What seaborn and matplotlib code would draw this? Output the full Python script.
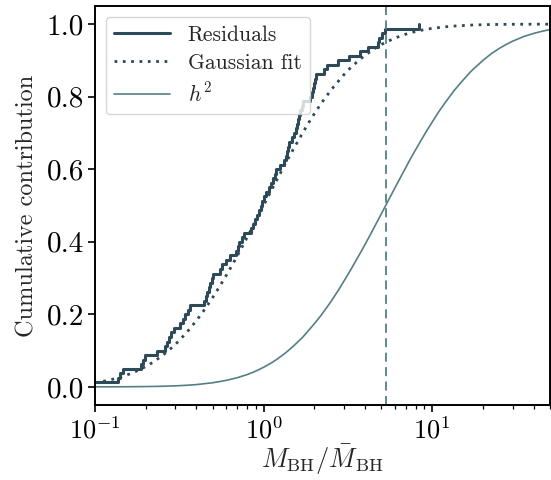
import matplotlib
matplotlib.use("Agg")
import matplotlib.pyplot as plt
import seaborn as sns

# ---- data ----
residual_masses = [0.08, 0.137, 0.141, 0.147, 0.188, 0.193, 0.198, 0.233, 0.260, 0.268,
                   0.275, 0.283, 0.294, 0.319, 0.333, 0.342, 0.356, 0.366, 0.444, 0.453,
                   0.462, 0.472, 0.482, 0.491, 0.502, 0.552, 0.567, 0.599, 0.633, 0.687,
                   0.701, 0.715, 0.745, 0.766, 0.843, 0.866, 0.890, 0.915, 0.940, 0.960,
                   0.980, 1.007, 1.035, 1.078, 1.108, 1.139, 1.170, 1.186, 1.253, 1.323,
                   1.360, 1.379, 1.398, 1.417, 1.476, 1.517, 1.559, 1.581, 1.602, 1.625,
                   1.647, 1.693, 1.716, 1.888, 1.940, 1.967, 1.994, 2.021, 2.049, 2.286,
                   2.382, 2.768, 3.217, 3.738, 4.171, 4.781, 4.847, 5.048, 5.260, 8.372]

fit_x = [0.1, 0.11, 0.12, 0.13, 0.14, 0.15, 0.17, 0.18, 0.2, 0.22, 0.25, 0.27, 0.3, 0.35,
         0.4, 0.45, 0.5, 0.55, 0.6, 0.65, 0.7, 0.8, 0.9, 1.0, 1.1, 1.2, 1.35, 1.5, 1.8,
         2.0, 2.2, 2.5, 2.7, 3.0, 3.3, 3.7, 4.0, 4.5, 5.0, 6.0, 7.0, 8.0, 9.0, 10, 13,
         17, 22, 30, 40, 50]
fit_cdf = [0.0115, 0.0147, 0.0182, 0.022, 0.0261, 0.0306, 0.0401, 0.0453, 0.056, 0.0675,
           0.0857, 0.0981, 0.117, 0.150, 0.183, 0.2153, 0.247, 0.2776, 0.307, 0.3353,
           0.362, 0.413, 0.4586, 0.500, 0.5375, 0.571, 0.6164, 0.655, 0.719, 0.753,
           0.782, 0.8171, 0.836, 0.8609, 0.881, 0.9017, 0.914, 0.9312, 0.944, 0.9616,
           0.9726, 0.980, 0.985, 0.9885, 0.9943, 0.9974, 0.9989, 0.9996, 0.9999, 0.9999]

h2_x = [0.1, 0.12, 0.15, 0.2, 0.25, 0.3, 0.35, 0.4, 0.5, 0.6, 0.7, 0.8, 0.85, 0.92, 1.0,
        1.1, 1.2, 1.35, 1.5, 1.7, 2.0, 2.2, 2.5, 2.8, 3.0, 3.3, 3.5, 3.8, 4.0, 4.2, 4.5,
        4.8, 5.3, 5.7, 6.0, 6.5, 7.0, 7.5, 8.5, 9.2, 10, 11, 12, 13.5, 15, 17, 20, 22.5,
        25, 27, 30, 35, 40, 45, 50]
h2_cdf = [0.0001, 0.0001, 0.0003, 0.0008, 0.0016, 0.0028, 0.0044, 0.0063, 0.0114, 0.0178,
          0.0254, 0.034, 0.0387, 0.0456, 0.054, 0.0647, 0.076, 0.0936, 0.112, 0.136,
          0.174, 0.198, 0.234, 0.269, 0.292, 0.324, 0.345, 0.374, 0.393, 0.411, 0.437,
          0.462, 0.500, 0.528, 0.548, 0.578, 0.606, 0.632, 0.676, 0.703, 0.730, 0.760,
          0.785, 0.817, 0.842, 0.870, 0.900, 0.919, 0.933, 0.942, 0.953, 0.966, 0.9745,
          0.9805, 0.985]

h2_peak = 5.3
y_ticks = [0.0, 0.2, 0.4, 0.6, 0.8, 1.0]

dark = "#2e4a58"
light = "#557f86"

sns.set_theme(style="ticks")
plt.rcParams.update({
    "font.family": "serif",
    "font.serif": ["cmr10"],
    "mathtext.fontset": "cm",
    "axes.formatter.use_mathtext": True,
    "axes.unicode_minus": False,
    "axes.edgecolor": "black",
    "axes.linewidth": 1.4,
    "xtick.color": "black",
    "ytick.color": "black",
    "xtick.major.width": 1.2,
    "ytick.major.width": 1.2,
    "xtick.minor.width": 0.9,
    "xtick.major.size": 5,
    "ytick.major.size": 5,
    "xtick.minor.size": 3,
})

fig = plt.figure(figsize=(5.51, 4.80), dpi=100)
ax = fig.add_axes([95 / 551, 75 / 480, 455 / 551, 399 / 480])

sns.ecdfplot(x=residual_masses, ax=ax, color=dark, lw=2.2, label="Residuals", log_scale=True)
sns.lineplot(x=fit_x, y=fit_cdf, ax=ax, color=dark, lw=2.0, linestyle=(0, (1, 2)),
             label="Gaussian fit")
sns.lineplot(x=h2_x, y=h2_cdf, ax=ax, color=light, lw=1.2, label="$h^2$")
ax.axvline(h2_peak, color=light, lw=1.3, linestyle=(0, (5, 3)))

ax.set_xscale("log")
ax.set_xlim(0.1, 50)
ax.set_ylim(-0.05, 1.05)
ax.set_yticks(y_ticks)
ax.set_yticklabels([f"{v:.1f}" for v in y_ticks])
ax.tick_params(axis="x", which="major", labelsize=19, pad=3)
ax.tick_params(axis="y", which="major", labelsize=21, pad=3)
ax.set_xlabel(r"$M_{\rm BH}/\bar{M}_{\rm BH}$", fontsize=19, labelpad=0)
ax.set_ylabel("Cumulative contribution", fontsize=17.5, labelpad=6)

ax.legend(loc="upper left", fontsize=15.5, handlelength=2.6, framealpha=0.8,
          edgecolor="0.8", fancybox=True, labelspacing=0.4)

fig.savefig("out.png", dpi=100)
